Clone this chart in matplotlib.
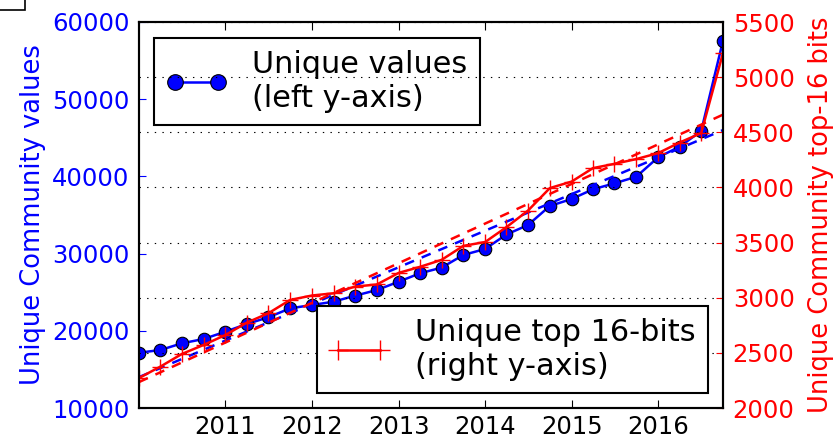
"""
Unique Community values (left axis) and unique top 16-bits (right axis),
quarterly, with the linear trend drawn dashed for each series.
"""

import matplotlib
matplotlib.use("Agg")
from matplotlib import pyplot as plt
from matplotlib.patches import Rectangle
import matplotlib.dates as mdates
import pandas as pd

plt.rcParams["font.family"] = "DejaVu Sans"
plt.rcParams["lines.scale_dashes"] = False

# quarterly samples, Jan 2010 .. Oct 2016
quarters = pd.date_range("2010-01-01", "2016-10-01", freq="QS")

# left y-axis: unique community values
unique_values = [
    17160, 17510, 18380, 18940, 19890, 20880, 21750, 22910, 23340, 23770,
    24550, 25280, 26360, 27450, 28180, 29820, 30600, 32480, 33700, 36170,
    37070, 38330, 39100, 39960, 42470, 43850, 45880, 57580,
]

# right y-axis: unique top 16-bits
unique_top16 = [
    2272, 2375, 2490, 2572, 2662, 2774, 2859, 2980, 3020, 3040,
    3101, 3120, 3225, 3280, 3343, 3470, 3505, 3640, 3790, 3994,
    4053, 4175, 4214, 4257, 4311, 4407, 4493, 5220,
]

# dashed trend lines, start and end values
trend_dates = [quarters[0], quarters[-1]]
values_trend = [14000, 46000]
top16_trend = [2235, 4660]

left_ticks = [10000, 20000, 30000, 40000, 50000, 60000]
right_ticks = [2000, 2500, 3000, 3500, 4000, 4500, 5000, 5500]
year_ticks = ["2011", "2012", "2013", "2014", "2015", "2016"]

fig = plt.figure(figsize=(8.33, 4.4), dpi=100)
ax = fig.add_axes([139 / 833, 32 / 440, 584 / 833, 386 / 440])
ax2 = ax.twinx()

ax.plot(quarters, unique_values, color="b", lw=1.8, marker="o", ms=9,
        mec="k", mew=0.8, label="Unique values\n(left y-axis)")
ax.plot(trend_dates, values_trend, color="b", lw=1.8, ls="--", dashes=(7, 6))

ax2.plot(quarters, unique_top16, color="r", lw=1.8, marker="+", ms=12,
         mew=1.0, label="Unique top 16-bits\n(right y-axis)")
ax2.plot(trend_dates, top16_trend, color="r", lw=1.8, ls="--", dashes=(7, 6))

ax.set_xlim(quarters[0], quarters[-1])
ax.set_ylim(10000, 60000)
ax2.set_ylim(2000, 5500)
ax.set_yticks(left_ticks)
ax2.set_yticks(right_ticks)
ax.set_xticks([pd.Timestamp(y + "-01-01") for y in year_ticks])
ax.xaxis.set_major_formatter(mdates.DateFormatter("%Y"))

ax.set_ylabel("Unique Community values", color="b", fontsize=18.5, labelpad=4)
ax2.set_ylabel("Unique Community top-16 bits", color="r", fontsize=18.5,
               labelpad=10)

ax.tick_params(axis="x", direction="in", length=6, top=True, labelsize=17.5,
               pad=5, colors="k")
ax.tick_params(axis="y", direction="in", length=5, colors="b",
               labelsize=17.5, pad=7)
ax2.tick_params(axis="y", direction="in", length=5, colors="r",
                labelsize=17.5, pad=7)

for spine in ax2.spines.values():
    spine.set_linewidth(1.5)
for spine in ax.spines.values():
    spine.set_linewidth(1.5)

ax2.grid(True, axis="y", color="k", lw=0.8, ls=(0, (1, 4.5)))

leg_kw = dict(fontsize=21.8, numpoints=2, markerscale=1.25, handlelength=2.0,
              handletextpad=0.85, borderpad=0.4, fancybox=False,
              framealpha=1, edgecolor="k", borderaxespad=0)
leg1 = ax.legend(loc="upper left", bbox_to_anchor=(154 / 833, 1 - 38 / 440),
                 bbox_transform=fig.transFigure, **leg_kw)
leg2 = ax2.legend(loc="lower right", bbox_to_anchor=(708 / 833, 1 - 393 / 440),
                  bbox_transform=fig.transFigure, **leg_kw)
for leg in (leg1, leg2):
    leg.get_frame().set_linewidth(1.5)

# stray frame corner at the top left of the original figure
fig.patches.append(Rectangle((-0.05, 1 - 10 / 440), 0.05 + 25 / 833, 0.1,
                             transform=fig.transFigure, fill=False,
                             ec="k", lw=1.2))

fig.savefig("out.png", dpi=100)
